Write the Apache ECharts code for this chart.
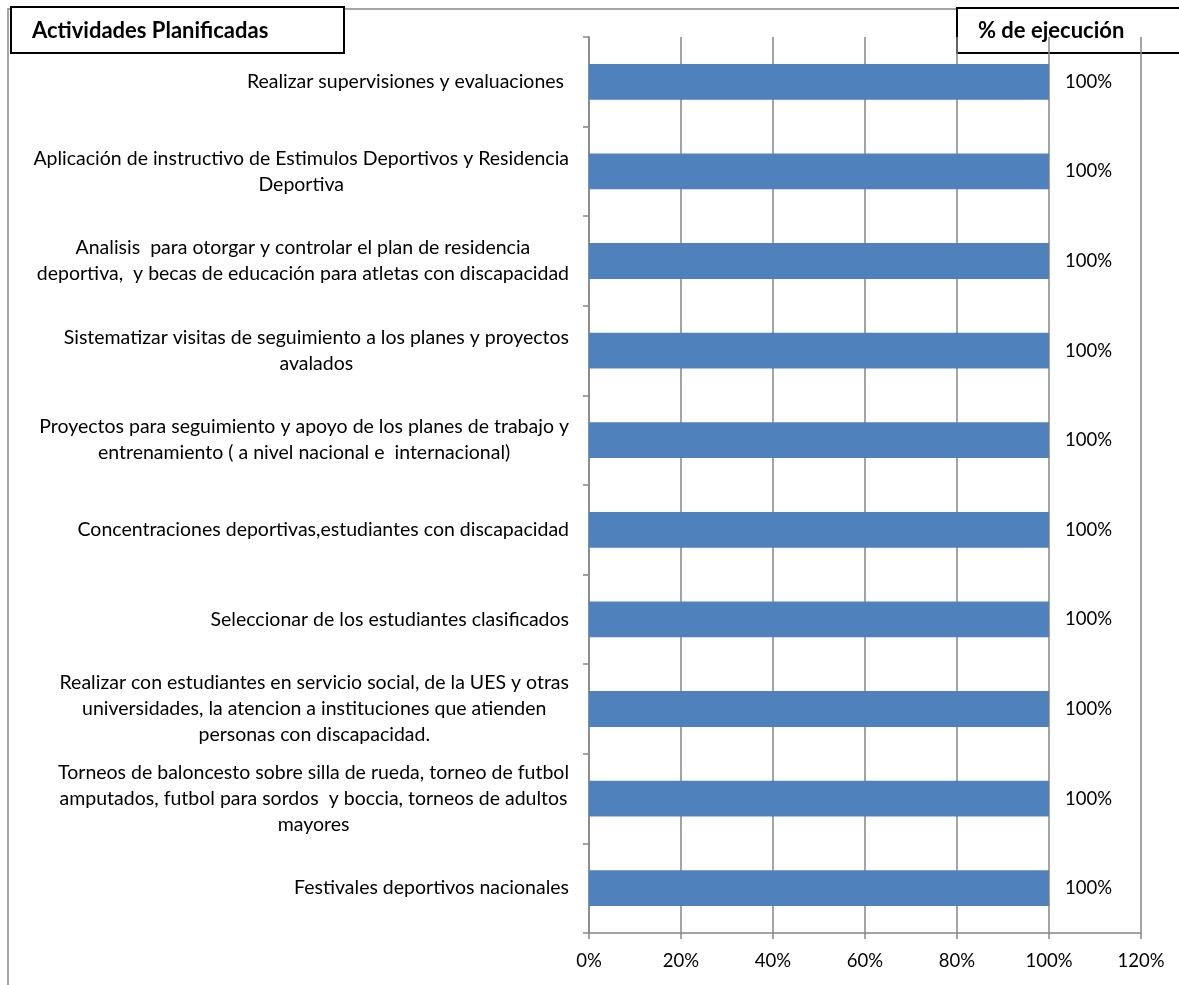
<!DOCTYPE html>
<html>
<head>
<meta charset="utf-8">
<script src="https://cdn.jsdelivr.net/npm/echarts@6/dist/echarts.min.js"></script>
<style>
html,body{margin:0;padding:0;background:#fff;}
#c{width:1179px;height:985px;}
</style>
</head>
<body>
<div id="c"></div>
<script>
const categories = [
  "Realizar supervisiones y evaluaciones ",
  "Aplicación de instructivo de Estimulos Deportivos y Residencia\nDeportiva",
  "Analisis  para otorgar y controlar el plan de residencia\ndeportiva,  y becas de educación para atletas con discapacidad",
  "Sistematizar visitas de seguimiento a los planes y proyectos\navalados",
  "Proyectos para seguimiento y apoyo de los planes de trabajo y\nentrenamiento ( a nivel nacional e  internacional)",
  "Concentraciones deportivas,estudiantes con discapacidad",
  "Seleccionar de los estudiantes clasificados",
  "Realizar con estudiantes en servicio social, de la UES y otras\nuniversidades, la atencion a instituciones que atienden\npersonas con discapacidad.",
  "Torneos de baloncesto sobre silla de rueda, torneo de futbol\namputados, futbol para sordos  y boccia, torneos de adultos\nmayores",
  "Festivales deportivos nacionales"
];
const values = [100, 100, 100, 100, 100, 100, 100, 100, 100, 100];
const xTicks = [0, 20, 40, 60, 80, 100, 120];
const leftHeader = "Actividades Planificadas";
const rightHeader = "% de ejecución";

const FONT = "Lato";
const chart = echarts.init(document.getElementById('c'), null, {renderer: 'canvas'});
chart.setOption({
  backgroundColor: '#fff',
  animation: false,
  textStyle: {fontFamily: FONT},
  grid: {left: 589, top: 37, width: 552, height: 896, containLabel: false},
  xAxis: {
    type: 'value',
    min: xTicks[0],
    max: xTicks[xTicks.length - 1],
    interval: 20,
    axisLine: {show: true, lineStyle: {color: '#868686', width: 1.5}},
    axisTick: {show: true, length: 6, lineStyle: {color: '#868686', width: 1.5}},
    splitLine: {show: true, lineStyle: {color: '#868686', width: 1.5}},
    axisLabel: {formatter: '{value}%', fontSize: 18.5, color: '#000', margin: 19, fontFamily: FONT}
  },
  yAxis: {
    type: 'category',
    inverse: true,
    data: categories,
    axisLine: {show: true, lineStyle: {color: '#868686', width: 1.5}},
    axisTick: {show: true, length: 6, lineStyle: {color: '#868686', width: 1.5}},
    splitLine: {show: false},
    axisLabel: {
      margin: 20,
      align: 'right',
      formatter: v => v.split('\n').map(l => '{c|' + l + '}').join('\n'),
      rich: {c: {align: 'center', fontSize: 19.5, lineHeight: 26, color: '#000', fontFamily: FONT}}
    }
  },
  series: [{
    type: 'bar',
    data: values,
    barWidth: '40%',
    itemStyle: {color: '#4F81BD'},
    label: {show: true, position: 'right', distance: 16, formatter: '{c}%', fontSize: 18.5, color: '#000', fontFamily: FONT}
  }],
  graphic: [
    {type: 'rect', shape: {x: 8, y: 9, width: 1300, height: 1100}, style: {fill: 'none', stroke: '#888', lineWidth: 1.5}, silent: true},
    {type: 'rect', shape: {x: 11, y: 7, width: 333, height: 46}, style: {fill: '#fff', stroke: '#000', lineWidth: 2}, silent: true},
    {type: 'text', x: 32, y: 31, style: {text: leftHeader, fontSize: 22, fontWeight: 'bold', fontFamily: FONT, fill: '#000', textVerticalAlign: 'middle'}, silent: true},
    {type: 'rect', shape: {x: 957, y: 8, width: 300, height: 45}, style: {fill: '#fff', stroke: '#000', lineWidth: 2}, silent: true},
    {type: 'text', x: 978, y: 31, style: {text: rightHeader, fontSize: 22, fontWeight: 'bold', fontFamily: FONT, fill: '#000', textVerticalAlign: 'middle'}, silent: true}
  ]
});
</script>
</body>
</html>
